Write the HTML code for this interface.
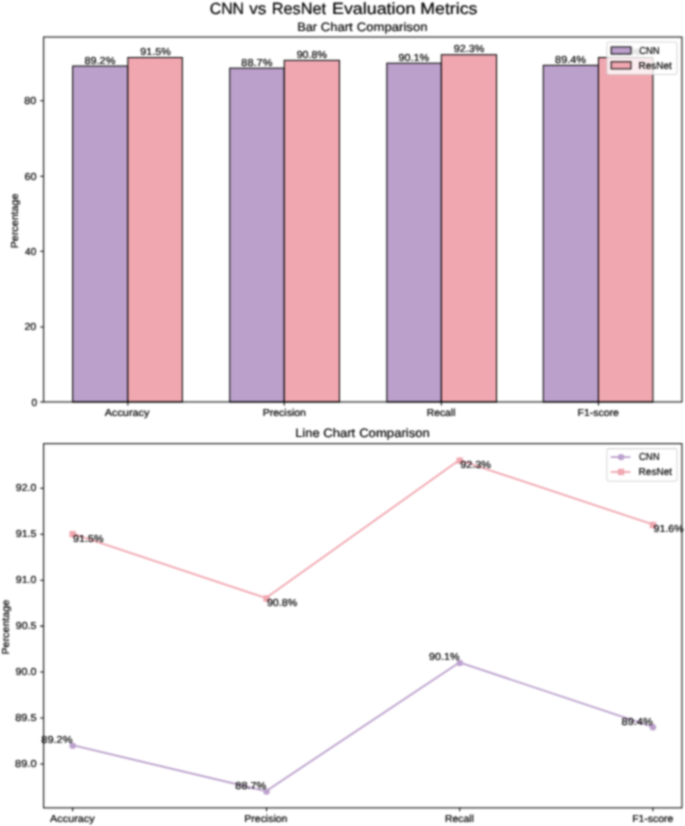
<!DOCTYPE html>
<html lang="en">
<head>
<meta charset="utf-8">
<title>CNN vs ResNet Evaluation Metrics</title>
<style>
html,body{margin:0;padding:0;background:#fff;}
body{width:685px;height:826px;overflow:hidden;}
svg{display:block;}
svg text{font-family:"Liberation Sans",sans-serif;fill:#000;text-rendering:geometricPrecision;stroke:#000;stroke-width:0.22px;}
</style>
</head>
<body>
<svg width="685" height="826" viewBox="0 0 685 826">
<defs>
<filter id="soft" x="0" y="0" width="685" height="826" filterUnits="userSpaceOnUse" color-interpolation-filters="sRGB">
<feConvolveMatrix order="5" kernelMatrix="0.0021 0.0112 0.0195 0.0112 0.0021 0.0112 0.0589 0.1025 0.0589 0.0112 0.0195 0.1025 0.1784 0.1025 0.0195 0.0112 0.0589 0.1025 0.0589 0.0112 0.0021 0.0112 0.0195 0.0112 0.0021" edgeMode="duplicate" preserveAlpha="true"/>
</filter>
</defs>
<g filter="url(#soft)">
<rect width="685" height="826" fill="#fff"/>
<!-- bar chart -->
<rect x="72.65" y="66.03" width="55.2" height="335.92" fill="#BBA0CC" stroke="#000" stroke-width="1.03"/>
<rect x="229.75" y="68.15" width="54.49" height="333.79" fill="#BBA0CC" stroke="#000" stroke-width="1.03"/>
<rect x="386.85" y="63.2" width="54.49" height="338.74" fill="#BBA0CC" stroke="#000" stroke-width="1.03"/>
<rect x="543.24" y="65.32" width="55.2" height="336.62" fill="#BBA0CC" stroke="#000" stroke-width="1.03"/>
<rect x="127.85" y="57.54" width="54.49" height="344.4" fill="#F0A7B0" stroke="#000" stroke-width="1.03"/>
<rect x="284.24" y="60.37" width="55.2" height="341.57" fill="#F0A7B0" stroke="#000" stroke-width="1.03"/>
<rect x="441.34" y="54.72" width="55.2" height="347.23" fill="#F0A7B0" stroke="#000" stroke-width="1.03"/>
<rect x="598.43" y="57.54" width="54.49" height="344.4" fill="#F0A7B0" stroke="#000" stroke-width="1.03"/>
<path d="M127.85 401.95V405.38M284.24 401.95V405.38M441.34 401.95V405.38M598.43 401.95V405.38M43.64 401.95H40.2M43.64 326.98H40.2M43.64 251.31H40.2M43.64 176.35H40.2M43.64 100.68H40.2" stroke="#000" stroke-width="1.02" fill="none"/>
<rect x="43.64" y="37.04" width="638.3" height="364.91" fill="none" stroke="#000" stroke-width="1.02"/>
<text x="84.45" y="64" font-size="10.12" textLength="30.92" lengthAdjust="spacingAndGlyphs">89.2%</text>
<text x="241.33" y="66" font-size="10.12" textLength="31.07" lengthAdjust="spacingAndGlyphs">88.7%</text>
<text x="398.45" y="61" font-size="10.12" textLength="30.65" lengthAdjust="spacingAndGlyphs">90.1%</text>
<text x="555.1" y="63" font-size="10.12" textLength="30.95" lengthAdjust="spacingAndGlyphs">89.4%</text>
<text x="140.39" y="55" font-size="10.12" textLength="30.44" lengthAdjust="spacingAndGlyphs">91.5%</text>
<text x="296.71" y="58" font-size="10.12" textLength="30.18" lengthAdjust="spacingAndGlyphs">90.8%</text>
<text x="453.7" y="52" font-size="10.12" textLength="30.55" lengthAdjust="spacingAndGlyphs">92.3%</text>
<text x="610.18" y="55" font-size="10.12" textLength="29.63" lengthAdjust="spacingAndGlyphs">91.6%</text>
<text x="104.73" y="416" font-size="10.12" textLength="44.7" lengthAdjust="spacingAndGlyphs">Accuracy</text>
<text x="262.71" y="416" font-size="10.12" textLength="43.26" lengthAdjust="spacingAndGlyphs">Precision</text>
<text x="426.74" y="416" font-size="10.12" textLength="28.7" lengthAdjust="spacingAndGlyphs">Recall</text>
<text x="577.49" y="416" font-size="10.12" textLength="41.29" lengthAdjust="spacingAndGlyphs">F1-score</text>
<text transform="translate(18 248.27) rotate(-90)" font-size="10.12" textLength="54.69" lengthAdjust="spacingAndGlyphs">Percentage</text>
<text x="31.59" y="406" font-size="10.12" textLength="5.66" lengthAdjust="spacingAndGlyphs">0</text>
<text x="24.41" y="330" font-size="10.12" textLength="11.92" lengthAdjust="spacingAndGlyphs">20</text>
<text x="25.1" y="255" font-size="10.12" textLength="11.14" lengthAdjust="spacingAndGlyphs">40</text>
<text x="24.4" y="180" font-size="10.12" textLength="12.08" lengthAdjust="spacingAndGlyphs">60</text>
<text x="24.39" y="104" font-size="10.12" textLength="11.98" lengthAdjust="spacingAndGlyphs">80</text>
<text x="297.27" y="31" font-size="12.14" textLength="19.85" lengthAdjust="spacingAndGlyphs">Bar</text>
<text x="320.81" y="31" font-size="12.14" textLength="31.96" lengthAdjust="spacingAndGlyphs">Chart</text>
<text x="356.81" y="31" font-size="12.14" textLength="70.7" lengthAdjust="spacingAndGlyphs">Comparison</text>
<rect x="606.93" y="41.99" width="70.06" height="32.53" rx="1.97" fill="#fff" fill-opacity="0.8" stroke="#ccc" stroke-opacity="0.8" stroke-width="1.03"/>
<rect x="611.17" y="46.94" width="19.81" height="7.07" fill="#BBA0CC" stroke="#000" stroke-width="1.03"/>
<rect x="611.17" y="61.79" width="19.81" height="7.07" fill="#F0A7B0" stroke="#000" stroke-width="1.03"/>
<text x="639.16" y="54" font-size="10.12" textLength="20.38" lengthAdjust="spacingAndGlyphs">CNN</text>
<text x="638.5" y="69" font-size="10.12" textLength="33.29" lengthAdjust="spacingAndGlyphs">ResNet</text>
<!-- line chart -->
<polyline points="72.51,745.19 265.94,791.18 459.36,662.42 652.78,726.8" fill="none" stroke="#BBA0CC" stroke-width="1.84" stroke-linejoin="round"/>
<circle cx="72.65" cy="745.64" r="3.18" fill="#BBA0CC"/>
<circle cx="266.55" cy="791.61" r="3.18" fill="#BBA0CC"/>
<circle cx="459.74" cy="662.9" r="3.18" fill="#BBA0CC"/>
<circle cx="652.92" cy="727.25" r="3.18" fill="#BBA0CC"/>
<polyline points="72.51,533.66 265.94,598.04 459.36,460.08 652.78,524.46" fill="none" stroke="#F0A7B0" stroke-width="1.84" stroke-linejoin="round"/>
<rect x="69.47" y="531.01" width="6.37" height="6.36" fill="#F0A7B0"/>
<rect x="263.36" y="595.36" width="6.37" height="6.36" fill="#F0A7B0"/>
<rect x="456.55" y="457.46" width="6.37" height="6.36" fill="#F0A7B0"/>
<rect x="649.74" y="521.82" width="6.37" height="6.36" fill="#F0A7B0"/>
<path d="M72.65 807.87V811.31M266.55 807.87V811.31M459.74 807.87V811.31M652.92 807.87V811.31M43.64 764.03H40.2M43.64 718.06H40.2M43.64 672.09H40.2M43.64 626.13H40.2M43.64 580.16H40.2M43.64 534.19H40.2M43.64 488.22H40.2" stroke="#000" stroke-width="1.02" fill="none"/>
<rect x="43.64" y="443.67" width="638.3" height="364.2" fill="none" stroke="#000" stroke-width="1.02"/>
<text x="41.29" y="743" font-size="10.12" textLength="31.2" lengthAdjust="spacingAndGlyphs">89.2%</text>
<text x="235.35" y="789" font-size="10.12" textLength="30.91" lengthAdjust="spacingAndGlyphs">88.7%</text>
<text x="429.13" y="660" font-size="10.12" textLength="30.27" lengthAdjust="spacingAndGlyphs">90.1%</text>
<text x="621.51" y="725" font-size="10.12" textLength="31.25" lengthAdjust="spacingAndGlyphs">89.4%</text>
<text x="73.06" y="542" font-size="10.12" textLength="30.38" lengthAdjust="spacingAndGlyphs">91.5%</text>
<text x="266.91" y="606" font-size="10.12" textLength="30.29" lengthAdjust="spacingAndGlyphs">90.8%</text>
<text x="460.15" y="468" font-size="10.12" textLength="30.88" lengthAdjust="spacingAndGlyphs">92.3%</text>
<text x="653.58" y="532" font-size="10.12" textLength="30.04" lengthAdjust="spacingAndGlyphs">91.6%</text>
<text x="50.14" y="822" font-size="10.12" textLength="44.52" lengthAdjust="spacingAndGlyphs">Accuracy</text>
<text x="244.35" y="822" font-size="10.12" textLength="43.05" lengthAdjust="spacingAndGlyphs">Precision</text>
<text x="445.05" y="822" font-size="10.12" textLength="28.88" lengthAdjust="spacingAndGlyphs">Recall</text>
<text x="632.17" y="822" font-size="10.12" textLength="41.15" lengthAdjust="spacingAndGlyphs">F1-score</text>
<text transform="translate(9 654.55) rotate(-90)" font-size="10.12" textLength="54.69" lengthAdjust="spacingAndGlyphs">Percentage</text>
<text x="15.11" y="767" font-size="10.12" textLength="21.42" lengthAdjust="spacingAndGlyphs">89.0</text>
<text x="15.16" y="721" font-size="10.12" textLength="21.39" lengthAdjust="spacingAndGlyphs">89.5</text>
<text x="15.6" y="675" font-size="10.12" textLength="20.85" lengthAdjust="spacingAndGlyphs">90.0</text>
<text x="15.8" y="629" font-size="10.12" textLength="20.68" lengthAdjust="spacingAndGlyphs">90.5</text>
<text x="15.85" y="583" font-size="10.12" textLength="20.52" lengthAdjust="spacingAndGlyphs">91.0</text>
<text x="15.7" y="537" font-size="10.12" textLength="20.85" lengthAdjust="spacingAndGlyphs">91.5</text>
<text x="15.86" y="491" font-size="10.12" textLength="20.56" lengthAdjust="spacingAndGlyphs">92.0</text>
<text x="295.17" y="437" font-size="12.14" textLength="24.46" lengthAdjust="spacingAndGlyphs">Line</text>
<text x="323.18" y="437" font-size="12.14" textLength="32.04" lengthAdjust="spacingAndGlyphs">Chart</text>
<text x="359.15" y="437" font-size="12.14" textLength="70.73" lengthAdjust="spacingAndGlyphs">Comparison</text>
<rect x="606.93" y="448.62" width="70.06" height="32.53" rx="1.97" fill="#fff" fill-opacity="0.8" stroke="#ccc" stroke-opacity="0.8" stroke-width="1.03"/>
<path d="M610.75 457.11H630.41" stroke="#BBA0CC" stroke-width="1.84"/>
<circle cx="621.08" cy="457.11" r="3.18" fill="#BBA0CC"/>
<path d="M610.75 471.96H630.41" stroke="#F0A7B0" stroke-width="1.84"/>
<rect x="617.89" y="468.78" width="6.37" height="6.36" fill="#F0A7B0"/>
<text x="638.99" y="460" font-size="10.12" textLength="20.55" lengthAdjust="spacingAndGlyphs">CNN</text>
<text x="638.55" y="475" font-size="10.12" textLength="33.5" lengthAdjust="spacingAndGlyphs">ResNet</text>
<!-- figure title -->
<text x="209.68" y="14" font-size="16.19" textLength="34.4" lengthAdjust="spacingAndGlyphs">CNN</text>
<text x="249.29" y="14" font-size="16.19" textLength="17.12" lengthAdjust="spacingAndGlyphs">vs</text>
<text x="271.69" y="14" font-size="16.19" textLength="54.29" lengthAdjust="spacingAndGlyphs">ResNet</text>
<text x="332" y="14" font-size="16.19" textLength="83.38" lengthAdjust="spacingAndGlyphs">Evaluation</text>
<text x="420.31" y="14" font-size="16.19" textLength="57.07" lengthAdjust="spacingAndGlyphs">Metrics</text>
</g>
</svg>
</body>
</html>
